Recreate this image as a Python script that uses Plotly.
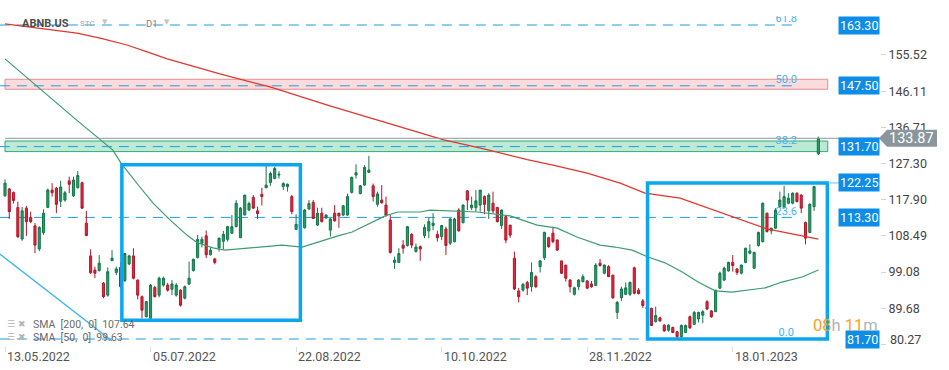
import plotly.graph_objects as go

# ---------------- data ----------------
opens = [118.9,120.7,119.8,115.9,107.7,115.7,113.3,111.1,105.1,109.3,
         115.9,120.4,120.9,117.5,117.8,122.8,118.9,121.0,122.3,111.8,
         103.3,99.6,99.5,96.2,93.1,102.1,99.0,100.3,96.9,101.2,
         103.3,97.0,92.7,87.5,87.1,95.1,93.1,95.7,95.7,94.6,
         93.1,94.4,92.3,96.0,99.5,102.9,106.6,108.5,103.6,102.5,
         105.4,107.1,107.6,109.2,110.9,108.0,113.9,115.2,118.5,115.0,
         119.3,121.0,122.4,123.4,124.3,121.3,121.3,118.7,110.2,111.6,
         110.6,115.5,117.2,111.3,114.4,113.2,110.0,114.4,114.4,113.9,
         113.9,119.8,124.3,119.5,121.7,125.0,121.5,116.7,117.8,116.5,
         112.6,101.6,101.6,106.1,106.0,108.9,104.4,105.7,108.6,109.8,
         111.2,108.9,108.3,110.3,106.6,107.0,115.2,111.9,120.2,115.8,
         115.8,116.5,118.7,115.0,117.0,115.9,111.2,113.5,111.3,102.7,
         94.2,94.4,96.4,95.3,97.9,100.5,102.8,108.0,109.2,107.4,
         102.0,100.9,97.0,93.3,95.3,96.6,96.8,96.0,95.6,101.4,
         98.8,100.5,98.3,88.6,92.4,93.3,93.3,100.2,94.4,91.6,
         90.0,89.7,86.2,87.2,85.3,84.0,84.7,83.6,82.3,83.4,
         87.5,85.5,86.9,87.9,91.4,89.0,88.8,94.9,97.0,99.4,
         101.6,99.9,98.8,101.6,104.0,100.1,106.0,107.0,114.4,109.8,
         110.5,116.1,115.8,117.0,117.0,119.6,119.1,112.0,109.4,116.1,
         129.8]
highs = [123.2,120.9,120.0,117.4,116.0,116.3,114.8,111.8,111.0,115.4,
         120.8,122.2,121.2,122.8,120.2,123.9,123.9,125.4,122.6,115.0,
         105.0,100.5,103.5,96.5,100.3,104.8,100.5,101.5,104.0,103.6,
         105.3,97.2,93.0,91.6,96.0,95.5,97.9,97.9,96.3,97.0,
         96.2,94.6,95.6,101.8,102.6,108.7,108.3,109.9,105.5,102.8,
         108.0,109.8,111.1,113.9,117.8,116.0,119.1,117.4,119.1,116.1,
         121.0,126.7,125.2,126.5,125.3,122.4,122.1,119.1,114.1,112.4,
         115.5,117.8,117.8,115.8,115.8,114.1,113.1,116.5,114.4,116.5,
         119.5,123.9,127.1,121.7,126.9,129.3,122.1,120.0,121.7,118.7,
         113.9,103.1,105.3,107.4,111.1,109.2,106.5,106.0,111.5,113.2,
         114.4,109.8,111.3,110.9,113.1,113.2,115.7,116.7,120.4,118.7,
         120.4,120.4,119.0,119.6,120.0,115.9,115.4,113.5,111.3,104.4,
         95.0,96.2,96.8,101.6,98.3,102.2,109.6,108.3,110.9,107.6,
         102.0,100.9,97.3,95.3,97.3,98.5,97.0,96.8,101.4,102.5,
         101.1,100.9,98.3,91.6,95.3,96.4,96.6,100.5,94.9,92.1,
         90.6,89.8,90.1,87.5,85.5,85.5,84.9,83.8,85.5,85.5,
         87.8,89.0,88.8,89.2,91.8,89.2,94.4,99.2,100.5,101.8,
         103.5,100.1,101.1,105.4,106.3,104.4,109.6,117.1,114.5,110.6,
         115.7,120.0,121.5,119.6,119.8,119.8,119.3,112.2,117.0,121.5,
         134.3]
lows = [118.7,112.9,116.9,107.9,107.2,108.5,111.8,104.0,104.5,108.8,
        115.7,118.7,114.4,116.0,117.4,119.6,118.6,120.8,115.5,108.4,
        98.6,97.5,99.2,92.3,92.7,101.9,98.3,94.8,96.5,100.9,
        97.2,92.0,87.1,87.3,86.8,92.5,92.5,95.3,94.0,93.1,
        92.7,90.1,92.0,95.7,99.2,102.6,105.5,102.7,103.4,101.1,
        104.4,105.0,107.0,109.0,110.7,108.0,113.9,115.0,115.5,112.9,
        116.4,120.9,121.5,123.2,123.4,120.4,120.0,114.1,110.0,110.4,
        110.4,115.2,112.9,111.1,112.0,112.9,108.3,112.2,110.6,113.7,
        113.7,119.5,123.4,119.3,121.5,125.0,117.4,116.1,116.9,113.5,
        103.9,99.9,101.6,103.9,105.7,105.3,104.2,102.0,107.9,107.9,
        110.0,107.0,107.4,103.5,106.1,106.8,109.6,111.8,115.2,115.2,
        114.8,114.8,114.1,112.9,114.4,112.0,110.3,106.6,108.0,94.4,
        91.2,94.0,93.1,94.0,94.9,99.0,102.2,105.4,106.6,104.6,
        98.6,96.6,93.8,93.0,94.4,96.4,94.7,95.0,95.6,100.5,
        98.5,97.9,92.1,86.9,91.6,93.1,92.9,93.3,93.3,89.8,
        88.9,85.2,86.0,86.2,83.6,83.6,83.2,81.7,81.9,83.2,
        84.3,85.3,86.0,85.8,89.2,87.2,88.8,94.7,96.8,99.2,
        99.2,98.3,98.5,101.4,103.7,99.9,105.7,106.8,109.4,108.9,
        110.3,115.8,115.7,116.7,116.7,117.2,114.4,106.3,109.2,115.0,
        129.5]
closes = [122.2,114.8,117.7,108.3,115.0,112.2,112.2,106.1,110.7,114.4,
          120.4,119.7,116.7,121.2,119.7,121.9,123.0,124.2,115.7,108.6,
          98.9,98.8,101.4,92.7,99.2,102.7,99.9,95.3,103.9,103.3,
          97.5,93.1,89.2,91.4,95.7,92.7,97.5,97.5,94.4,96.0,
          95.7,90.5,95.3,97.5,102.4,107.6,107.6,103.6,104.8,101.6,
          107.9,108.9,110.9,110.9,117.0,115.7,119.1,116.9,115.7,114.3,
          118.7,121.7,124.7,126.0,124.5,122.1,121.9,114.8,111.5,110.8,
          115.2,116.9,113.0,114.4,112.2,113.9,112.9,112.4,113.7,116.3,
          118.7,123.7,124.9,121.5,126.3,125.6,118.7,119.4,117.1,113.9,
          104.2,102.2,103.9,105.3,110.9,106.1,105.6,105.1,110.7,112.2,
          111.8,108.0,111.2,106.0,112.9,112.9,109.8,116.5,117.8,116.5,
          117.6,120.4,116.7,119.1,115.0,112.2,115.2,107.4,108.7,94.7,
          92.7,95.9,94.9,99.0,95.3,102.0,109.4,105.7,107.0,104.8,
          98.8,97.5,95.3,95.0,97.0,97.9,94.9,95.3,100.9,100.8,
          100.9,97.9,92.4,91.2,94.7,95.0,96.4,93.6,93.5,90.4,
          89.5,85.2,87.8,86.4,83.8,85.3,83.4,82.3,85.2,85.2,
          84.6,88.6,88.6,88.8,89.5,87.5,94.4,98.8,100.1,101.6,
          100.8,99.0,100.9,105.3,104.6,104.2,109.4,117.0,109.6,110.5,
          115.2,117.8,118.7,118.3,119.6,117.4,115.7,107.9,116.7,121.3,
          133.87]

# moving averages at sample bars (bar index, value)
sma200_bar = [0, 16.8, 22.2, 28.5, 33.2, 37.9, 50.2, 61.9, 75.9, 90.0, 102.3,
              112.6, 122.0, 128.0, 136.0, 143.7, 149.5, 157.7, 167.8, 178.0, 190]
sma200_val = [163.6, 161.2, 159.9, 158.1, 156.3, 154.5, 150.6, 147.2, 142.3, 137.6, 133.5,
              130.9, 128.3, 126.9, 124.8, 122.2, 119.6, 118.3, 114.4, 110.3, 107.64]
sma50_bar = [0, 8.2, 16.4, 25.2, 27.1, 31.5, 34.6, 38.6, 42.5, 44.9, 48.6, 51.4, 58.4,
             64.7, 69.4, 73.1, 77.8, 81.1, 85.7, 88.8, 91.8, 97.0, 99.3, 110.3, 118.0,
             124.3, 129.0, 133.6, 139.0, 142.5, 146.5, 150.2, 154.2, 158.2, 161.9,
             165.9, 169.8, 177.6, 181.5, 186.2, 190]
sma50_val = [154.5, 146.7, 138.9, 130.8, 127.4, 121.2, 117.0, 112.6, 108.7, 106.7, 105.4,
             104.8, 105.4, 106.1, 105.6, 106.9, 108.5, 109.5, 112.1, 113.7, 114.7, 114.7,
             115.2, 114.7, 113.7, 111.3, 110.5, 108.2, 106.1, 105.6, 104.8, 103.0, 101.5,
             99.1, 96.5, 94.2, 93.9, 95.0, 96.5, 97.8, 99.63]

tick_bars = [0, 34, 68, 102, 136, 170]
tick_labels = ["13.05.2022", "05.07.2022", "22.08.2022", "10.10.2022", "28.11.2022", "18.01.2023"]
ytick_vals = [155.52, 146.11, 136.71, 127.30, 117.90, 108.49, 99.08, 89.68, 80.27]

fib_levels = [163.30, 147.50, 131.70, 113.30, 81.70]
fib_names = ["61.8", "50.0", "38.2", "23.6", "0.0"]
price_tags = [163.30, 147.50, 131.70, 122.25, 113.30, 81.70]
last_price = 133.87
sma_legend = ["SMA  [200,  0]  107.64", "SMA  [50,  0]  99.63"]

# ---------------- geometry helpers (pixel -> paper) ----------------
W, H = 949, 370
PL, PR, PT, PB = 0, 880, 16, 346
PX_PER_UNIT = 3.848
Y_TOP = 163.30 + (25 - PT) / PX_PER_UNIT
Y_BOT = 163.30 - (PB - 25) / PX_PER_UNIT
def pxx(x):
    return (x - PL) / (PR - PL)
def pxy(y):
    return (PB - y) / (PB - PT)

bars = list(range(len(opens)))
FONT = "Roboto"

fig = go.Figure()
fig.add_trace(go.Candlestick(
    x=bars, open=opens, high=highs, low=lows, close=closes,
    increasing=dict(line=dict(color="#12774a", width=1), fillcolor="#2a9d68"),
    decreasing=dict(line=dict(color="#b3162b", width=1), fillcolor="#dd2a3e"),
    whiskerwidth=0, showlegend=False, hoverinfo="skip"))
fig.add_trace(go.Scatter(x=sma200_bar, y=sma200_val, mode="lines",
                         line=dict(color="#e2352f", width=1.2), showlegend=False, hoverinfo="skip"))
fig.add_trace(go.Scatter(x=sma50_bar, y=sma50_val, mode="lines",
                         line=dict(color="#3a9c70", width=1.2), showlegend=False, hoverinfo="skip"))
fig.add_trace(go.Scatter(x=[182.5] * len(fib_levels), y=fib_levels, text=fib_names,
                         mode="text", textposition="top center", cliponaxis=True,
                         textfont=dict(family=FONT, size=11, color="#45b3ec"),
                         showlegend=False, hoverinfo="skip"))

shapes = []
# zones
shapes.append(dict(type="rect", xref="x", yref="y", x0=0, x1=192.2, y0=146.6, y1=149.2,
                   fillcolor="#fbdcdc", line=dict(color="#e58d8d", width=1), layer="below"))
shapes.append(dict(type="rect", xref="x", yref="y", x0=0, x1=192.2, y0=130.4, y1=133.15,
                   fillcolor="#bde9d5", line=dict(color="#2fac74", width=1), layer="below"))
# fibonacci dashed levels
for lv in fib_levels:
    shapes.append(dict(type="line", xref="x", yref="y", x0=-1.2, x1=184.6, y0=lv, y1=lv,
                       line=dict(color="#1e9be6", width=1, dash="10px,7px"), layer="below"))
# current price line
shapes.append(dict(type="line", xref="paper", yref="y", x0=pxx(5), x1=1, y0=last_price, y1=last_price,
                   line=dict(color="#8c969b", width=1)))
# trend line
shapes.append(dict(type="line", xref="x", yref="y", x0=-1.2, y0=103.8, x1=25.0, y1=81.2,
                   line=dict(color="#3cb4ef", width=1.3)))
# blue boxes
shapes.append(dict(type="rect", xref="x", yref="y", x0=27.3, x1=69.0, y0=86.6, y1=127.0,
                   line=dict(color="#0aa6ee", width=3.5)))
shapes.append(dict(type="rect", xref="x", yref="y", x0=150.1, x1=192.1, y0=81.7, y1=122.25,
                   line=dict(color="#0aa6ee", width=3.5)))
shapes.append(dict(type="line", xref="paper", yref="y", x0=pxx(828), x1=pxx(840), y0=122.25, y1=122.25,
                   line=dict(color="#6cc4f0", width=1)))
# last-price tag arrow
path = (f"M {pxx(879)},{last_price} L {pxx(887)},136.05 L {pxx(937)},136.05 "
        f"L {pxx(937)},131.65 L {pxx(887)},131.65 Z")
shapes.append(dict(type="path", xref="paper", yref="y", path=path,
                   fillcolor="#8a969c", line=dict(width=0)))

ann = []
for v in price_tags:
    ann.append(dict(xref="paper", yref="y", x=1, y=v, xanchor="right", yanchor="middle",
                    text=f"{v:.2f}", showarrow=False, bgcolor="#0d8ce8", borderpad=1,
                    font=dict(family=FONT, size=12.5, color="white")))
ann.append(dict(xref="paper", yref="y", x=pxx(911), y=last_price, xanchor="center", yanchor="middle",
                text=f"{last_price:.2f}", showarrow=False,
                font=dict(family=FONT, size=14.5, color="white")))
for b, lab in zip(tick_bars, tick_labels):
    ann.append(dict(xref="x", yref="paper", x=b, y=0, xanchor="left", yanchor="top", yshift=-1,
                    text=lab, showarrow=False, font=dict(family=FONT, size=12.5, color="#555")))
# lowest y tick label, lifted to stay inside the chart like the reference
ann.append(dict(xref="paper", yref="paper", x=pxx(888), y=pxy(339), xanchor="left", yanchor="middle",
                text=f"{ytick_vals[-1]:.2f}", showarrow=False,
                font=dict(family=FONT, size=12.5, color="#444")))
# header
ann.append(dict(xref="paper", yref="paper", x=pxx(20), y=pxy(23), xanchor="left", yanchor="middle",
                text="<b>ABNB.US</b>", showarrow=False, font=dict(family=FONT, size=11, color="#4c4c4c")))
ann.append(dict(xref="paper", yref="paper", x=pxx(78), y=pxy(23.5), xanchor="left", yanchor="middle",
                text="STC", showarrow=False, font=dict(family=FONT, size=8, color="#a0a8ad")))
ann.append(dict(xref="paper", yref="paper", x=pxx(100), y=pxy(22), xanchor="left", yanchor="middle",
                text="▼", showarrow=False, font=dict(family="DejaVu Sans", size=7, color="#c0c4c8")))
ann.append(dict(xref="paper", yref="paper", x=pxx(144), y=pxy(23.5), xanchor="left", yanchor="middle",
                text="D1", showarrow=False, font=dict(family=FONT, size=9.5, color="#7a8287")))
ann.append(dict(xref="paper", yref="paper", x=pxx(162), y=pxy(22), xanchor="left", yanchor="middle",
                text="▼", showarrow=False, font=dict(family="DejaVu Sans", size=7, color="#c0c4c8")))
# sma legend
for txt, yy in zip(sma_legend, [324, 337]):
    ann.append(dict(xref="paper", yref="paper", x=pxx(5), y=pxy(yy), xanchor="left", yanchor="middle",
                    text="☰ ✖", showarrow=False, font=dict(family="DejaVu Sans", size=9, color="#b5b5b5")))
    ann.append(dict(xref="paper", yref="paper", x=pxx(31), y=pxy(yy), xanchor="left", yanchor="middle",
                    text=txt, showarrow=False, font=dict(family=FONT, size=10.5, color="#6a6a6a")))
# countdown timer
ann.append(dict(xref="paper", yref="paper", x=1, y=pxy(325), xanchor="right", yanchor="middle",
                text="<span style='color:#f6a11d'>08</span><span style='color:#b0b4b8'>h </span>"
                     "<span style='color:#f6a11d'>11</span><span style='color:#b0b4b8'>m</span>",
                showarrow=False, font=dict(family=FONT, size=16.5)))

fig.update_layout(
    width=W, height=H,
    margin=dict(l=PL, r=W - PR, t=PT, b=H - PB, pad=0),
    paper_bgcolor="white", plot_bgcolor="white",
    showlegend=False, shapes=shapes, annotations=ann,
    xaxis=dict(range=[-1.17, 204.4], rangeslider=dict(visible=False), showgrid=False,
               zeroline=False, showline=False, tickmode="array", tickvals=tick_bars,
               showticklabels=False, ticks="outside", ticklen=5, tickcolor="#dcdcdc",
               automargin=False, fixedrange=True),
    yaxis=dict(side="right", range=[Y_BOT, Y_TOP], showgrid=False, zeroline=False,
               showline=False, tickmode="array", tickvals=ytick_vals,
               ticktext=[f"{v:.2f}" for v in ytick_vals[:-1]] + [""],
               ticks="outside", ticklen=5, tickcolor="#d5d5d5",
               tickfont=dict(family=FONT, size=12.5, color="#444"),
               automargin=False, fixedrange=True),
    hovermode=False,
)

fig.write_html("out.html", config={"displayModeBar": False},
               post_script="document.body.style.margin='0';document.body.style.overflow='hidden';")
